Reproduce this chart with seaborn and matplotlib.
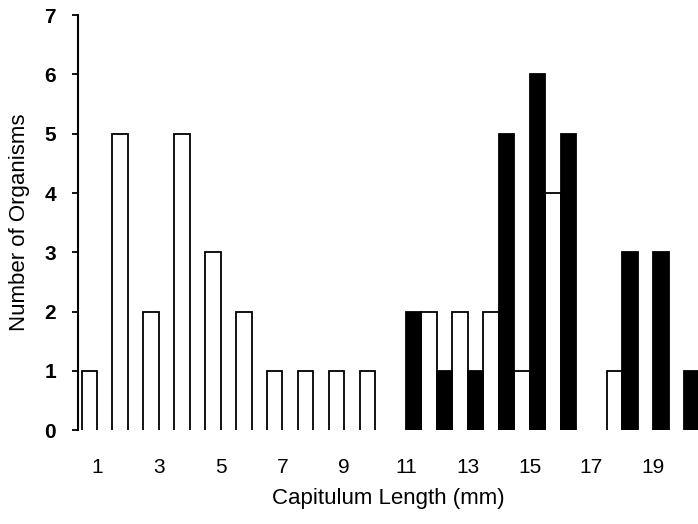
import matplotlib

matplotlib.use("Agg")
import matplotlib.pyplot as plt
import pandas as pd
import seaborn as sns

# Capitulum length classes (mm) and counts per group
lengths = list(range(1, 21))
counts_open = [1, 5, 2, 5, 3, 2, 1, 1, 1, 1, 0, 2, 2, 2, 1, 4, 0, 1, 0, 0]
counts_filled = [0, 0, 0, 0, 0, 0, 0, 0, 0, 0, 2, 1, 1, 5, 6, 5, 0, 3, 3, 1]
group_names = ["Group A", "Group B"]
y_ticks = list(range(0, 8))

df = pd.DataFrame(
    {
        "length": lengths * 2,
        "count": counts_open + counts_filled,
        "group": [group_names[0]] * len(lengths) + [group_names[1]] * len(lengths),
    }
)

sns.set_style("white")
plt.rcParams["font.family"] = ["Liberation Sans", "DejaVu Sans"]
plt.rcParams["text.color"] = "black"
plt.rcParams["axes.labelcolor"] = "black"
plt.rcParams["xtick.color"] = "black"
plt.rcParams["ytick.color"] = "black"

fig = plt.figure(figsize=(6.98, 5.24), dpi=100)
ax = fig.add_axes([0.112, 0.179, 0.888, 0.792])

sns.barplot(
    data=df,
    x="length",
    y="count",
    hue="group",
    hue_order=group_names,
    palette={group_names[0]: "white", group_names[1]: "black"},
    edgecolor="black",
    linewidth=1.3,
    width=1.0,
    legend=False,
    ax=ax,
)

# open-bottomed bars: push the lower edge below the clipped baseline
for p in ax.patches:
    h = p.get_height()
    if h == 0:
        p.set_visible(False)
        continue
    p.set_y(-0.1)
    p.set_height(h + 0.1)

ax.set_xlim(-0.61, 19.45)
ax.set_ylim(0, 7)
ax.set_yticks(y_ticks)
ax.set_yticklabels([str(t) for t in y_ticks], fontweight="bold")

odd_pos = [i for i, v in enumerate(lengths) if v % 2 == 1]
ax.set_xticks(odd_pos)
ax.set_xticklabels([str(lengths[i]) for i in odd_pos])

ax.tick_params(axis="x", length=0, pad=20, labelsize=15)
ax.tick_params(axis="y", left=True, length=4, width=1.3, pad=12, labelsize=15)

for side in ["top", "right", "bottom"]:
    ax.spines[side].set_visible(False)
ax.spines["left"].set_color("black")
ax.spines["left"].set_linewidth(1.5)

ax.set_xlabel("Capitulum Length (mm)", fontsize=16, labelpad=8)
ax.set_ylabel("Number of Organisms", fontsize=16, labelpad=10)

fig.savefig("out.png", dpi=100)
